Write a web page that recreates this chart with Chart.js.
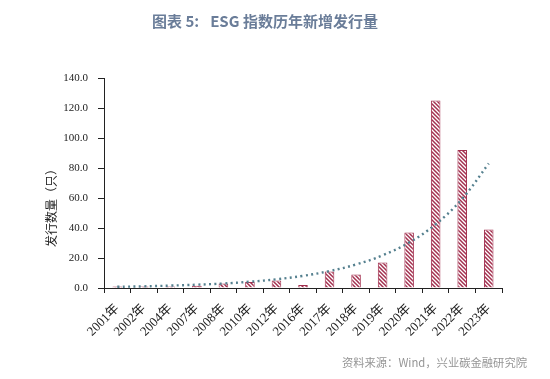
<!DOCTYPE html>
<html><head><meta charset="utf-8">
<script src="https://cdn.jsdelivr.net/npm/chart.js@4/dist/chart.umd.min.js"></script>
<style>
html,body{margin:0;padding:0;background:#fff;}
#wrap{position:relative;width:550px;height:379px;}
#title{position:absolute;left:152px;top:10px;font-family:"Noto Sans CJK SC","Noto Sans",sans-serif;font-weight:bold;font-size:15px;color:#6a7d99;white-space:nowrap;}
#title span{margin-left:11px;}
#src{position:absolute;right:23px;top:354px;font-family:"Noto Sans CJK SC","Noto Sans",sans-serif;font-size:11.3px;color:#959595;}
</style></head>
<body><div id="wrap">
<canvas id="c" width="550" height="379"></canvas>
<div id="title">图表 5:<span>ESG 指数历年新增发行量</span></div>
<div id="src">资料来源：Wind，兴业碳金融研究院</div>
</div>
<script>
const categories = ["2001年","2002年","2004年","2007年","2008年","2010年","2012年","2016年","2017年","2018年","2019年","2020年","2021年","2022年","2023年"];
const issued = [1, 1, 1, 1.5, 3, 4, 5, 2, 11, 9, 17, 37, 125, 92, 39];
const trend = [0.8, 1.1, 1.6, 2.2, 3.0, 4.2, 5.8, 8.1, 11.3, 15.7, 21.8, 30.3, 42.5, 59.5, 83];
const yTicks = [0, 20, 40, 60, 80, 100, 120, 140];
const yTitle = '发行数量（只）';

function stripes(){
  const s = 4, p = document.createElement('canvas');
  p.width = s; p.height = s;
  const g = p.getContext('2d');
  g.fillStyle = '#fff'; g.fillRect(0,0,s,s);
  g.strokeStyle = '#a3304f'; g.lineWidth = 1.5;
  g.beginPath();
  g.moveTo(-1,-1); g.lineTo(s+1,s+1);
  g.moveTo(-1,s-1); g.lineTo(1,s+1);
  g.moveTo(s-1,-1); g.lineTo(s+1,1);
  g.stroke();
  return g.createPattern(p,'repeat');
}
const yTitlePlugin = {
  id:'yTitle',
  afterDraw(chart){
    const c = chart.ctx;
    c.save();
    c.translate(51, 205);
    c.rotate(-Math.PI/2);
    c.font = "12px 'Noto Sans CJK SC', sans-serif";
    c.fillStyle = '#222';
    c.textAlign = 'center'; c.textBaseline = 'middle';
    c.fillText(yTitle, 0, 0);
    c.restore();
  }
};
const ctx = document.getElementById('c').getContext('2d');
const serif = "'Liberation Serif','Noto Sans CJK SC',serif";
new Chart(ctx, {
  data: {
    labels: categories,
    datasets: [
      {type:'line', data: trend, borderColor:'#55808f', borderWidth:2.4, borderDash:[2,3.4], pointRadius:0, tension:0.4, fill:false, order:0},
      {type:'bar', data: issued, backgroundColor: stripes(), borderColor:'#a3304f', borderWidth:1, barPercentage:0.72, categoryPercentage:0.5, order:1}
    ]
  },
  options: {
    responsive:false, animation:false,
    layout:{padding:{top:78, right:48, bottom:14, left:0}},
    plugins:{legend:{display:false}, tooltip:{enabled:false}},
    scales:{
      x:{
        grid:{display:true, drawOnChartArea:false, color:'#222', tickLength:5, offset:true},
        border:{color:'#222', width:1},
        ticks:{font:{family:serif, size:13}, color:'#222', maxRotation:45, minRotation:45, padding:8},
        afterFit: s => { s.height = 77; }
      },
      y:{
        min:0, max:140,
        afterBuildTicks: s => { s.ticks = yTicks.map(v => ({value:v})); },
        grid:{display:true, drawOnChartArea:false, color:'#222', tickLength:6},
        border:{color:'#222', width:1},
        ticks:{font:{family:serif, size:11}, color:'#222', padding:10, callback: v => Number(v).toFixed(1)},
        afterFit: s => { s.width = 104; }
      }
    }
  },
  plugins:[yTitlePlugin]
});
</script>
</body></html>
